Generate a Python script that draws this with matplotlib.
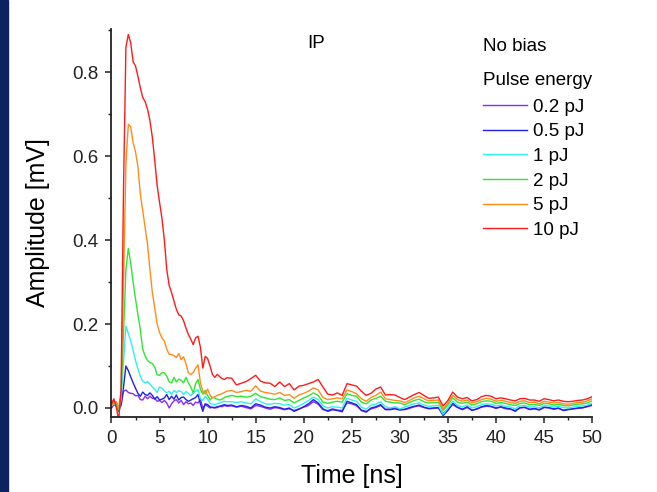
import matplotlib
matplotlib.use("Agg")
import matplotlib.pyplot as plt
from matplotlib.ticker import MultipleLocator, FormatStrFormatter
from matplotlib.patches import Rectangle

plt.rcParams["font.family"] = ["Liberation Sans", "DejaVu Sans"]

# sample times [ns]
time_ns = [0.0, 0.25, 0.5, 0.75, 1.0, 1.25, 1.5, 1.75, 2.0, 2.25, 2.5, 2.75,
           3.0, 3.25, 3.5, 3.75, 4.0, 4.25, 4.5, 4.75, 5.0, 5.25, 5.5, 5.75,
           6.0, 6.25, 6.5, 6.75, 7.0, 7.25, 7.5, 7.75, 8.0, 8.25, 8.5, 8.75,
           9.0, 9.25, 9.5, 9.75, 10.0, 10.25, 10.5, 10.75, 11.0, 11.25, 11.5, 11.75,
           12.0, 12.5, 13.0, 13.5, 14.0, 14.5, 15.0, 15.5, 16.0, 16.5, 17.0, 17.5,
           18.0, 18.5, 19.0, 19.5, 20.0, 20.5, 21.0, 21.5, 22.0, 22.5, 23.0, 23.5,
           24.0, 24.5, 25.0, 25.5, 26.0, 26.5, 27.0, 27.5, 28.0, 28.5, 29.0, 29.5,
           30.0, 30.5, 31.0, 31.5, 32.0, 32.5, 33.0, 33.5, 34.0, 34.5, 35.0, 35.5,
           36.0, 36.5, 37.0, 37.5, 38.0, 38.5, 39.0, 39.5, 40.0, 40.5, 41.0, 41.5,
           42.0, 42.5, 43.0, 43.5, 44.0, 44.5, 45.0, 45.5, 46.0, 46.5, 47.0, 47.5,
           48.0, 48.5, 49.0, 49.5, 50.0]

amp_02pJ = [0.000, 0.008, 0.004, 0.000, 0.006, 0.040, 0.043, 0.037, 0.035, 0.034, 0.029, 0.030,
            0.020, 0.019, 0.028, 0.022, 0.028, 0.023, 0.023, 0.016, 0.018, 0.013, 0.018, 0.012,
            0.000, 0.010, 0.017, 0.020, 0.012, 0.018, 0.008, 0.015, 0.010, 0.012, 0.006, 0.014,
            0.012, 0.020, 0.000, 0.008, 0.004, 0.000, 0.002, 0.000, 0.001, 0.004, 0.003, 0.006,
            0.004, 0.005, 0.002, 0.004, 0.001, -0.002, 0.006, 0.004, 0.000, -0.003, 0.001, -0.001,
            -0.004, -0.002, -0.006, -0.002, 0.002, 0.006, 0.015, 0.009, -0.004, -0.006, -0.002, -0.005,
            -0.006, 0.012, 0.010, 0.005, -0.005, -0.008, -0.002, 0.001, 0.006, -0.003, -0.002, 0.000,
            -0.003, -0.004, -0.001, 0.003, 0.005, 0.001, -0.002, -0.001, 0.000, -0.012, -0.004, 0.008,
            0.001, -0.004, 0.001, -0.005, -0.003, 0.002, 0.004, 0.003, -0.001, 0.002, -0.002, -0.003,
            -0.006, 0.000, 0.001, -0.004, -0.002, -0.005, 0.001, 0.000, -0.003, -0.001, -0.005, -0.003,
            -0.002, -0.001, 0.000, 0.003, 0.006]

amp_05pJ = [0.002, 0.018, 0.006, -0.008, 0.010, 0.050, 0.100, 0.089, 0.074, 0.060, 0.047, 0.035,
            0.028, 0.038, 0.032, 0.030, 0.036, 0.030, 0.021, 0.027, 0.019, 0.021, 0.024, 0.032,
            0.020, 0.028, 0.021, 0.031, 0.019, 0.025, 0.026, 0.020, 0.016, 0.019, 0.022, 0.025,
            0.032, 0.010, -0.008, 0.010, 0.008, 0.003, 0.001, 0.001, 0.003, 0.004, 0.006, 0.008,
            0.006, 0.007, 0.003, 0.006, 0.004, 0.000, 0.010, 0.007, 0.002, 0.000, 0.003, 0.001,
            -0.003, 0.000, -0.008, -0.003, 0.003, 0.010, 0.020, 0.012, -0.002, -0.008, -0.004, -0.006,
            -0.009, 0.016, 0.012, 0.008, -0.006, -0.010, 0.000, 0.003, 0.008, -0.004, -0.004, -0.002,
            -0.005, -0.003, 0.001, 0.004, 0.007, 0.002, -0.001, 0.000, 0.001, -0.018, -0.006, 0.011,
            0.002, -0.003, 0.003, -0.006, -0.002, 0.003, 0.006, 0.004, 0.000, 0.003, 0.000, -0.002,
            -0.008, 0.001, 0.002, -0.003, -0.001, -0.004, 0.002, 0.001, -0.002, 0.000, -0.006, -0.004,
            -0.002, 0.000, 0.001, 0.004, 0.008]

amp_1pJ = [0.005, 0.010, 0.008, -0.004, 0.020, 0.110, 0.195, 0.178, 0.160, 0.137, 0.113, 0.093,
           0.076, 0.064, 0.060, 0.063, 0.057, 0.050, 0.044, 0.037, 0.050, 0.047, 0.041, 0.036,
           0.040, 0.032, 0.042, 0.037, 0.041, 0.039, 0.032, 0.039, 0.035, 0.029, 0.036, 0.040,
           0.044, 0.022, 0.018, 0.028, 0.021, 0.011, 0.009, 0.008, 0.010, 0.012, 0.014, 0.016,
           0.015, 0.015, 0.013, 0.015, 0.012, 0.010, 0.022, 0.015, 0.010, 0.009, 0.011, 0.010,
           0.007, 0.008, 0.000, 0.005, 0.011, 0.018, 0.026, 0.020, 0.005, 0.000, 0.003, 0.002,
           0.000, 0.023, 0.019, 0.016, 0.002, -0.003, 0.007, 0.009, 0.015, 0.003, 0.000, 0.003,
           -0.002, 0.002, 0.006, 0.010, 0.012, 0.007, 0.004, 0.005, 0.006, -0.015, 0.000, 0.016,
           0.006, 0.003, 0.007, 0.000, 0.003, 0.008, 0.010, 0.009, 0.005, 0.007, 0.004, 0.002,
           -0.002, 0.005, 0.006, 0.002, 0.003, 0.000, 0.006, 0.005, 0.002, 0.004, 0.001, 0.000,
           0.002, 0.004, 0.005, 0.007, 0.011]

amp_2pJ = [0.008, 0.015, 0.010, -0.005, 0.030, 0.180, 0.330, 0.380, 0.345, 0.300, 0.260, 0.222,
           0.187, 0.140, 0.124, 0.113, 0.108, 0.106, 0.097, 0.079, 0.078, 0.084, 0.084, 0.076,
           0.062, 0.060, 0.073, 0.062, 0.069, 0.066, 0.060, 0.073, 0.060, 0.050, 0.036, 0.058,
           0.068, 0.045, 0.033, 0.042, 0.030, 0.019, 0.025, 0.024, 0.021, 0.019, 0.021, 0.025,
           0.027, 0.030, 0.027, 0.028, 0.026, 0.028, 0.035, 0.027, 0.024, 0.021, 0.020, 0.024,
           0.018, 0.020, 0.012, 0.018, 0.024, 0.029, 0.036, 0.030, 0.014, 0.011, 0.014, 0.016,
           0.014, 0.034, 0.030, 0.028, 0.014, 0.010, 0.019, 0.023, 0.028, 0.016, 0.014, 0.012,
           0.012, 0.008, 0.013, 0.018, 0.021, 0.015, 0.012, 0.013, 0.014, -0.006, 0.007, 0.024,
           0.014, 0.011, 0.014, 0.007, 0.010, 0.015, 0.017, 0.016, 0.011, 0.013, 0.011, 0.008,
           0.006, 0.011, 0.012, 0.008, 0.009, 0.006, 0.011, 0.010, 0.007, 0.009, 0.006, 0.005,
           0.007, 0.009, 0.010, 0.012, 0.017]

amp_5pJ = [0.005, 0.012, 0.015, 0.000, 0.040, 0.300, 0.580, 0.676, 0.670, 0.632, 0.610, 0.575,
           0.510, 0.470, 0.430, 0.390, 0.330, 0.275, 0.238, 0.200, 0.180, 0.167, 0.160, 0.140,
           0.128, 0.127, 0.125, 0.120, 0.130, 0.115, 0.122, 0.105, 0.084, 0.080, 0.084, 0.095,
           0.103, 0.060, 0.040, 0.033, 0.045, 0.031, 0.024, 0.027, 0.030, 0.032, 0.034, 0.037,
           0.040, 0.042, 0.037, 0.039, 0.042, 0.040, 0.053, 0.040, 0.037, 0.035, 0.033, 0.037,
           0.030, 0.032, 0.023, 0.031, 0.035, 0.040, 0.048, 0.043, 0.025, 0.020, 0.022, 0.024,
           0.022, 0.043, 0.039, 0.034, 0.022, 0.016, 0.025, 0.030, 0.038, 0.022, 0.020, 0.018,
           0.017, 0.013, 0.018, 0.024, 0.028, 0.022, 0.017, 0.018, 0.019, -0.002, 0.012, 0.030,
           0.020, 0.016, 0.019, 0.012, 0.015, 0.020, 0.023, 0.021, 0.016, 0.018, 0.016, 0.013,
           0.011, 0.016, 0.017, 0.013, 0.014, 0.010, 0.016, 0.014, 0.012, 0.013, 0.010, 0.009,
           0.011, 0.013, 0.014, 0.017, 0.022]

amp_10pJ = [0.010, 0.022, 0.002, -0.030, 0.045, 0.520, 0.860, 0.890, 0.870, 0.825, 0.815, 0.790,
            0.763, 0.740, 0.730, 0.712, 0.685, 0.645, 0.590, 0.530, 0.490, 0.452, 0.400, 0.330,
            0.292, 0.275, 0.255, 0.235, 0.222, 0.219, 0.208, 0.190, 0.175, 0.164, 0.151, 0.167,
            0.171, 0.145, 0.095, 0.123, 0.118, 0.100, 0.080, 0.073, 0.080, 0.075, 0.070, 0.068,
            0.072, 0.071, 0.055, 0.059, 0.063, 0.070, 0.078, 0.064, 0.060, 0.059, 0.051, 0.062,
            0.051, 0.058, 0.043, 0.052, 0.054, 0.058, 0.062, 0.068, 0.050, 0.033, 0.031, 0.036,
            0.030, 0.058, 0.055, 0.052, 0.040, 0.030, 0.035, 0.045, 0.050, 0.031, 0.032, 0.031,
            0.025, 0.020, 0.026, 0.032, 0.037, 0.030, 0.023, 0.024, 0.026, 0.005, 0.018, 0.038,
            0.026, 0.022, 0.025, 0.017, 0.020, 0.027, 0.030, 0.028, 0.022, 0.024, 0.022, 0.019,
            0.017, 0.022, 0.023, 0.019, 0.019, 0.016, 0.022, 0.020, 0.017, 0.019, 0.016, 0.015,
            0.016, 0.018, 0.019, 0.022, 0.027]

labels = ["0.2 pJ", "0.5 pJ", "1 pJ", "2 pJ", "5 pJ", "10 pJ"]
series = [amp_02pJ, amp_05pJ, amp_1pJ, amp_2pJ, amp_5pJ, amp_10pJ]
colors = ["#8b2cf5", "#2020e6", "#2ef0f0", "#2ee62e", "#ff8c1a", "#ff1a1a"]

fig = plt.figure(figsize=(6.57, 4.92), dpi=100)
ax = fig.add_axes([0.1697, 0.1524, 0.7315, 0.7886])

# navy strip on the left edge
fig.patches.append(Rectangle((0, 0), 7.5 / 657, 1, transform=fig.transFigure,
                             color="#0c2360", zorder=0))

lines = []
for y, c, lab in zip(series, colors, labels):
    ln, = ax.plot(time_ns, y, color=c, lw=1.0, label=lab)
    lines.append(ln)

ax.set_xlim(0, 50)
ax.set_ylim(-0.0215, 0.903)

for s in ["top", "right"]:
    ax.spines[s].set_visible(False)
for s in ["left", "bottom"]:
    ax.spines[s].set_linewidth(1.3)
    ax.spines[s].set_color("#222222")

ax.xaxis.set_major_locator(MultipleLocator(5))
ax.xaxis.set_minor_locator(MultipleLocator(2.5))
ax.yaxis.set_major_locator(MultipleLocator(0.2))
ax.yaxis.set_minor_locator(MultipleLocator(0.1))
ax.yaxis.set_major_formatter(FormatStrFormatter("%.1f"))
ax.tick_params(which="major", direction="out", length=4.3, width=1.1,
               labelsize=13.5, colors="#222222")
ax.tick_params(which="minor", direction="out", length=2.5, width=1.0, colors="#222222")
ax.tick_params(axis="x", which="major", pad=5)
ax.tick_params(axis="y", which="major", pad=5)

ax.set_xlabel("Time [ns]", fontsize=18, labelpad=12)
ax.set_ylabel("Amplitude [mV]", fontsize=18, labelpad=16)

ax.text(21.3, 0.868, "IP", fontsize=13.5, ha="center", va="center")
fig.text(483 / 657, 1 - 51 / 492, "No bias", fontsize=13.5, va="baseline")
fig.text(483 / 657, 1 - 85 / 492, "Pulse energy", fontsize=13.5, va="baseline")

leg = ax.legend(handles=lines, labels=labels,
                loc="upper left", bbox_to_anchor=(483 / 657, 1 - 98.5 / 492),
                bbox_transform=fig.transFigure, frameon=False,
                fontsize=13.5, handlelength=2.35, handletextpad=0.3,
                labelspacing=0.4, borderpad=0, borderaxespad=0)

fig.savefig("out.png", dpi=100)
